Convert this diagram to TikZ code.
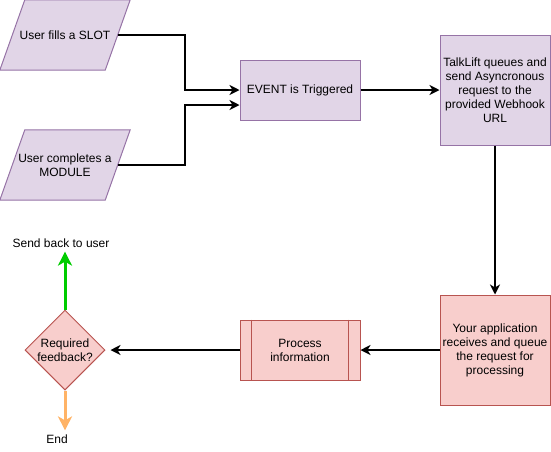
\documentclass[tikz,border=0pt]{standalone}
\usepackage{fontspec}
\setmainfont{Liberation Sans}
\usetikzlibrary{shapes.geometric}
\usetikzlibrary{arrows.meta}
\definecolor{lilacfill}{HTML}{E1D5E7}
\definecolor{lilacline}{HTML}{9673A6}
\definecolor{rosefill}{HTML}{F8CECC}
\definecolor{roseline}{HTML}{B85450}
\definecolor{yesgreen}{HTML}{00CC00}
\definecolor{noorange}{HTML}{FFB366}
\tikzset{
    box/.style={draw, line width=1pt, align=center, inner sep=0pt, font=\fontsize{12}{14}\selectfont},
    lilac/.style={box, fill=lilacfill, draw=lilacline},
    rose/.style={box, fill=rosefill, draw=roseline},
    slant/.style={align=center, inner sep=0pt, font=\fontsize{12}{14}\selectfont, minimum width=105pt, minimum height=70pt},
    flow/.style={line width=2pt, -{Stealth[length=10pt,width=10pt,inset=3pt]}},
    bigflow/.style={line width=3pt, -{Stealth[length=14pt,width=14pt,inset=4pt]}},
    txt/.style={font=\fontsize{12}{14}\selectfont, inner sep=0pt}
}

\begin{document}
\begin{tikzpicture}[x=1pt,y=-1pt]
\useasboundingbox (0,0) rectangle (551,451);
% inputs (parallelograms drawn round the text nodes)
\foreach \n/\y/\t in {slot/35/{User fills a SLOT}, module/165/{User completes a\\MODULE}}{
    \node[slant] (\n) at (65,\y) {};
    \draw[fill=lilacfill, draw=lilacline, line width=1pt] ([xshift=-12.5pt]\n.south west) -- ([xshift=12.5pt]\n.north west) -- ([xshift=12.5pt]\n.north east) -- ([xshift=-12.5pt]\n.south east) -- cycle;
    \node[slant] at (\n) {\t};
}
% upper row
\node[lilac, minimum width=120pt, minimum height=60pt] (event) at (300,90) {EVENT is Triggered};
\node[lilac, minimum width=110pt, minimum height=110pt] (talk) at (495,90) {TalkLift queues and\\send Asyncronous\\request to the\\provided Webhook\\URL};
% lower row
\node[rose, minimum width=110pt, minimum height=110pt] (app) at (495,350) {Your application\\receives and queue\\the request for\\processing};
\node[rose, minimum width=120pt, minimum height=60pt] (proc) at (300,350) {Process\\information};
\foreach \s/\a/\b in {12/north west/south west, -12/north east/south east}{
    \draw[roseline, line width=1pt] ([xshift=\s pt]proc.\a) -- ([xshift=\s pt]proc.\b);
}
\node[rose, diamond, minimum width=80pt, minimum height=80pt, aspect=1] (ask) at (65,350) {Required\\feedback?};
\node[txt] (send) at (61,243) {Send back to user};
\node[txt] (end) at (57,439) {End};
% connectors
\draw[flow] (slot.east) -- ++(67.5,0) |- (event.west);
\draw[flow] (module.east) -- ++(67.5,0) |- ([yshift=-15pt]event.west);
\draw[flow] (event) -- (talk);
\draw[flow] (talk) -- (app);
\draw[flow] (app) -- (proc);
\draw[flow, shorten >=5pt] (proc) -- (ask);
\draw[bigflow, yesgreen, shorten >=4pt] (ask.north) -- (ask.north |- send.south);
\draw[bigflow, noorange, shorten >=4pt] (ask.south) -- (ask.south |- end.north);
\end{tikzpicture}
\end{document}
